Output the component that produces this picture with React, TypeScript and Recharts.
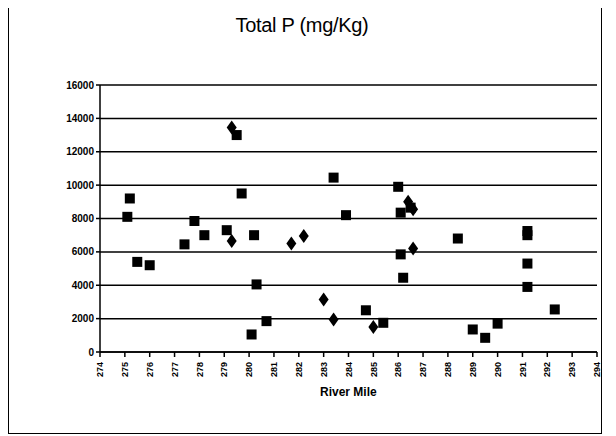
import { ScatterChart, Scatter, XAxis, YAxis, CartesianGrid } from "recharts";

// Total P (mg/Kg) by river mile
const squareMiles = [275.1, 275.2, 275.5, 276.0, 277.4, 277.8, 278.2, 279.1, 279.5, 279.7, 280.1, 280.2, 280.3, 280.7, 283.4, 283.9, 284.7, 285.4, 286.0, 286.1, 286.1, 286.2, 286.5, 288.4, 289.0, 289.5, 290.0, 291.2, 291.2, 291.2, 291.2, 292.3];
const squareValues = [8100, 9200, 5400, 5200, 6450, 7850, 7000, 7300, 13000, 9500, 1050, 7000, 4050, 1850, 10450, 8200, 2500, 1750, 9900, 8350, 5850, 4450, 8650, 6800, 1350, 850, 1700, 7250, 7000, 5300, 3900, 2550];

const diamondMiles = [279.3, 279.3, 281.7, 282.2, 283.0, 283.4, 285.0, 286.4, 286.6, 286.6];
const diamondValues = [13450, 6650, 6500, 6950, 3150, 1950, 1500, 9000, 8550, 6200];

const xTicks = [274, 275, 276, 277, 278, 279, 280, 281, 282, 283, 284, 285, 286, 287, 288, 289, 290, 291, 292, 293, 294];
const yTicks = [0, 2000, 4000, 6000, 8000, 10000, 12000, 14000, 16000];

const squares = squareMiles.map((m, i) => ({ mile: m, p: squareValues[i] }));
const diamonds = diamondMiles.map((m, i) => ({ mile: m, p: diamondValues[i] }));

const SquareDot = (props: any) => {
  const { cx, cy } = props;
  return <rect x={cx - 5} y={cy - 5} width={10} height={10} fill="#000" />;
};

const DiamondDot = (props: any) => {
  const { cx, cy } = props;
  return <polygon points={`${cx},${cy - 7} ${cx + 5},${cy} ${cx},${cy + 7} ${cx - 5},${cy}`} fill="#000" />;
};

const MileTick = (props: any) => {
  const { x, y, payload } = props;
  return (
    <g transform={`translate(${x},${y + 3})`}>
      <text x={0} y={0} dy="0.35em" textAnchor="end" transform="rotate(-90)" fontSize={9} fontWeight="bold" fill="#000">
        {payload.value}
      </text>
    </g>
  );
};

export default function App() {
  return (
    <div
      style={{
        position: "relative",
        width: 592,
        height: 428,
        marginTop: -4,
        border: "1px solid #000",
        background: "#fff",
        fontFamily: "'Liberation Sans', Arial, sans-serif",
      }}
    >
      <div style={{ position: "absolute", left: 0, width: 586, top: 9, textAlign: "center", fontSize: 20, letterSpacing: -0.3, color: "#000" }}>
        Total P (mg/Kg)
      </div>
      <ScatterChart width={592} height={428} margin={{ top: 80, right: 4, bottom: 31, left: 0 }} style={{ overflow: "visible" }}>
        <CartesianGrid horizontal vertical={false} stroke="#000" strokeWidth={1.5} />
        <XAxis
          type="number"
          dataKey="mile"
          domain={[274, 294]}
          ticks={xTicks}
          interval={0}
          height={50}
          tick={<MileTick />}
          tickSize={5}
          stroke="#000"
          strokeWidth={1.5}
        />
        <YAxis
          type="number"
          dataKey="p"
          domain={[0, 16000]}
          ticks={yTicks}
          interval={0}
          width={91}
          tickSize={4}
          tickMargin={2}
          stroke="#000"
          strokeWidth={1.5}
          tick={{ fontSize: 10, fill: "#000", fontWeight: "bold" }}
        />
        <Scatter data={squares} shape={<SquareDot />} isAnimationActive={false} />
        <Scatter data={diamonds} shape={<DiamondDot />} isAnimationActive={false} />
      </ScatterChart>
      <div style={{ position: "absolute", left: 311, top: 380, fontSize: 12, fontWeight: "bold", color: "#000" }}>
        River Mile
      </div>
    </div>
  );
}
